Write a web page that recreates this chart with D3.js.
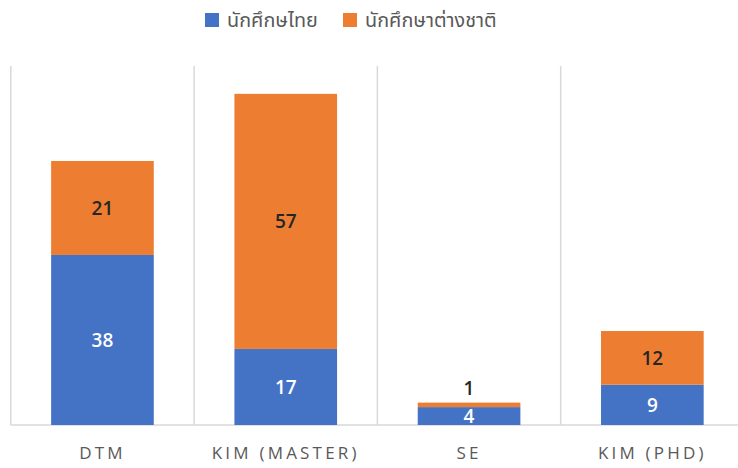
<!DOCTYPE html>
<html>
<head>
<meta charset="utf-8">
<script src="https://cdn.jsdelivr.net/npm/d3@7/dist/d3.min.js"></script>
<style>
  html, body { margin: 0; padding: 0; background: #fff; }
  svg { display: block; }
</style>
</head>
<body>
<svg id="chart" width="738" height="468"></svg>
<script>
// Students per programme, split by Thai / international
const categories = ["DTM", "KIM (MASTER)", "SE", "KIM (PHD)"];
const thaiStudents = [38, 17, 4, 9];
const intlStudents = [21, 57, 1, 12];
const seriesNames = ["นักศึกษไทย", "นักศึกษาต่างชาติ"];
const seriesColors = ["#4472C4", "#ED7D31"];
const yDomain = [0, 80];

const rows = categories.map((c, i) => ({ cat: c, thai: thaiStudents[i], intl: intlStudents[i] }));
const stack = d3.stack().keys(["thai", "intl"])(rows);

const svg = d3.select("#chart");
const baseY = 425, topY = 67;
const x = d3.scaleBand().domain(categories).range([10.8, 744]).paddingInner(0.44).paddingOuter(0.22);
const y = d3.scaleLinear().domain(yDomain).range([baseY, topY]);

// category separators
const step = x.step();
const left = x.range()[0];
const seps = d3.range(categories.length + 1).map(i => left + i * step);
svg.append("g").selectAll("line").data(seps).join("line")
  .attr("x1", d => d).attr("x2", d => d)
  .attr("y1", topY - 1).attr("y2", baseY)
  .attr("stroke", "#d9d9d9").attr("stroke-width", 1.5);

// baseline
svg.append("line")
  .attr("x1", left).attr("x2", 744)
  .attr("y1", baseY).attr("y2", baseY)
  .attr("stroke", "#d9d9d9").attr("stroke-width", 1.5);

// stacked bars
const layers = svg.append("g").selectAll("g").data(stack).join("g")
  .attr("fill", (d, i) => seriesColors[i]);
layers.selectAll("rect").data(d => d).join("rect")
  .attr("x", d => x(d.data.cat))
  .attr("width", x.bandwidth())
  .attr("y", d => y(d[1]))
  .attr("height", d => y(d[0]) - y(d[1]));

// value labels: centred in each segment, thin top segments get theirs above the bar
stack.forEach((layer, li) => {
  const isTop = li === stack.length - 1;
  svg.append("g").selectAll("text").data(layer).join("text")
    .attr("x", d => x(d.data.cat) + x.bandwidth() / 2)
    .attr("y", d => {
      const h = y(d[0]) - y(d[1]);
      if (isTop && h < 12) return y(d[1]) - 14;
      return (y(d[0]) + y(d[1])) / 2;
    })
    .attr("dy", "0.36em")
    .attr("text-anchor", "middle")
    .attr("font-family", "'Open Sans', sans-serif")
    .attr("font-size", 19)
    .attr("font-weight", 600)
    .attr("fill", li === 0 ? "#ffffff" : "#262626")
    .text(d => d[1] - d[0]);
});

// category axis labels
svg.append("g").selectAll("text").data(categories).join("text")
  .attr("x", d => x(d) + x.bandwidth() / 2)
  .attr("y", 453)
  .attr("dy", "0.36em")
  .attr("text-anchor", "middle")
  .attr("font-family", "'Open Sans', sans-serif")
  .attr("font-size", 17)
  .attr("letter-spacing", "3.2px")
  .attr("fill", "#595959")
  .text(d => d);

// legend
const legendX = [205, 343];
const lg = svg.append("g").selectAll("g").data(seriesNames).join("g")
  .attr("transform", (d, i) => `translate(${legendX[i]},13)`);
lg.append("rect").attr("width", 14).attr("height", 14)
  .attr("fill", (d, i) => seriesColors[i]);
lg.append("text").attr("x", 22).attr("y", 7).attr("dy", "0.36em")
  .attr("font-family", "'Noto Sans Thai', 'Noto Sans', sans-serif")
  .attr("font-size", 19.8)
  .attr("fill", "#595959")
  .text(d => d);
</script>
</body>
</html>
